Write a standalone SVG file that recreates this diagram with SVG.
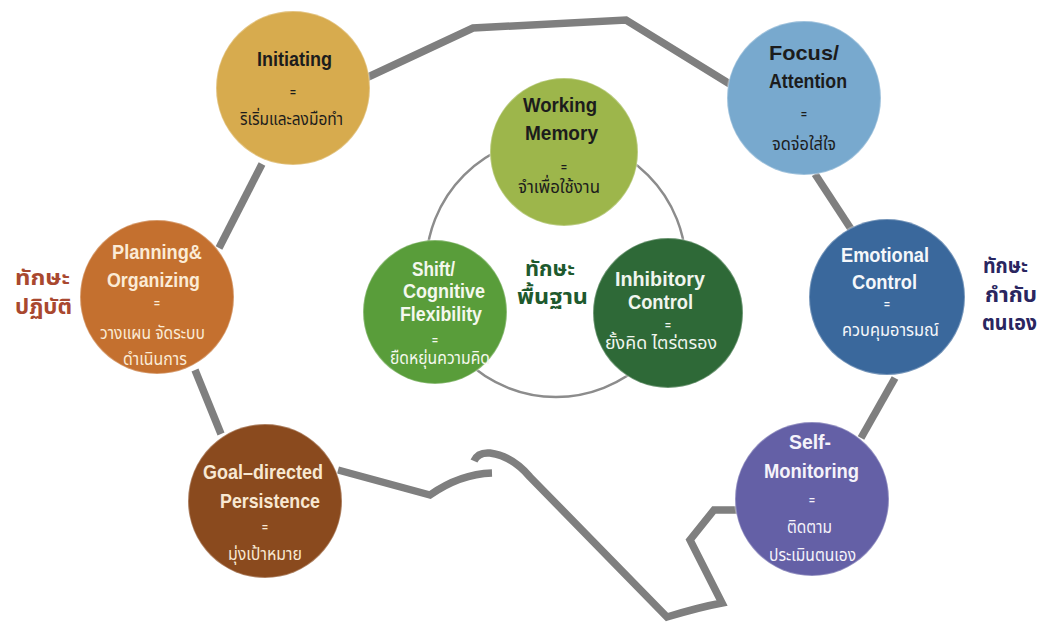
<svg xmlns="http://www.w3.org/2000/svg" width="1048" height="623" viewBox="0 0 1048 623">
<style>
.en{font-family:"Liberation Sans",Arial,sans-serif;font-weight:bold;font-size:21px}
.th{font-family:"Noto Sans Thai","Noto Sans Thai Looped","Loma","Garuda","Tlwg Typo","Noto Sans",sans-serif;font-size:18px}
.thb{font-family:"Noto Sans Thai","Noto Sans Thai Looped","Loma","Garuda","Tlwg Typo","Noto Sans",sans-serif;font-size:21px;font-weight:bold}
.eq{font-family:"Liberation Sans",Arial,sans-serif;font-weight:bold;font-size:10px;text-anchor:middle}
.dark{fill:#1c1c1c}
.node{stroke:#ffffff;stroke-opacity:0.3;stroke-width:2}
.line{fill:none;stroke:#7f7f7f;stroke-width:7.5;stroke-linejoin:miter;stroke-linecap:butt}
</style>
<rect width="1048" height="623" fill="#ffffff"/>
<g id="connectors">
<circle cx="556" cy="267" r="130" fill="none" stroke="#8c8c8c" stroke-width="2.5"/>
<path class="line" d="M366 78 L473 28 L626 20 L733 86"/>
<path class="line" d="M262 164 L219 248"/>
<path class="line" d="M195 370 L221 434"/>
<path class="line" d="M815 174 L851 229"/>
<path class="line" d="M895 378 L861 438"/>
<path class="line" d="M338 470 L430 495 Q460 474 492 473"/>
<path class="line" d="M474 461 Q478 452 490 453 Q512 456 530 477 L667 617 Q700 607 722 603 L690 540 L714 510 L740 510"/>
</g>
<g id="initiating">
<circle class="node" cx="293" cy="88" r="77" fill="#d7ab4e"/>
<text class="en dark" x="257" y="66" textLength="75" lengthAdjust="spacingAndGlyphs">Initiating</text>
<text class="eq dark" x="293" y="96">=</text>
<text class="th dark" x="240" y="125" textLength="103" lengthAdjust="spacingAndGlyphs">ริเริ่มและลงมือทำ</text>
</g>
<g id="planning">
<circle class="node" cx="157" cy="297" r="77" fill="#c4702f"/>
<g fill="#fbebd6">
<text class="en" x="112" y="259" textLength="90" lengthAdjust="spacingAndGlyphs">Planning&amp;</text>
<text class="en" x="107" y="287" textLength="93" lengthAdjust="spacingAndGlyphs">Organizing</text>
<text class="eq" x="157" y="307">=</text>
<text class="th" x="100" y="339" textLength="105" lengthAdjust="spacingAndGlyphs">วางแผน จัดระบบ</text>
<text class="th" x="123" y="365" textLength="64" lengthAdjust="spacingAndGlyphs">ดำเนินการ</text>
</g>
</g>
<g id="goal">
<circle class="node" cx="265" cy="501" r="77" fill="#8a4a1e"/>
<g fill="#f8e8d2">
<text class="en" x="203" y="479" textLength="120" lengthAdjust="spacingAndGlyphs">Goal–directed</text>
<text class="en" x="220" y="508" textLength="100" lengthAdjust="spacingAndGlyphs">Persistence</text>
<text class="eq" x="265" y="531">=</text>
<text class="th" x="228" y="560" textLength="74" lengthAdjust="spacingAndGlyphs">มุ่งเป้าหมาย</text>
</g>
</g>
<g id="working-memory">
<circle class="node" cx="564" cy="152" r="74" fill="#9db64b"/>
<text class="en dark" x="523" y="112" textLength="74" lengthAdjust="spacingAndGlyphs">Working</text>
<text class="en dark" x="525" y="140" textLength="73" lengthAdjust="spacingAndGlyphs">Memory</text>
<text class="eq dark" x="564" y="171">=</text>
<text class="th dark" x="518" y="193" textLength="82" lengthAdjust="spacingAndGlyphs">จำเพื่อใช้งาน</text>
</g>
<g id="shift">
<circle class="node" cx="435" cy="312" r="72" fill="#599d3a"/>
<g fill="#f4f8ee">
<text class="en" x="412" y="276" textLength="43" lengthAdjust="spacingAndGlyphs">Shift/</text>
<text class="en" x="403" y="298" textLength="82" lengthAdjust="spacingAndGlyphs">Cognitive</text>
<text class="en" x="400" y="321" textLength="82" lengthAdjust="spacingAndGlyphs">Flexibility</text>
<text class="eq" x="435" y="344">=</text>
<text class="th" x="390" y="364" textLength="100" lengthAdjust="spacingAndGlyphs">ยืดหยุ่นความคิด</text>
</g>
</g>
<g id="inhibitory">
<circle class="node" cx="668" cy="313" r="75" fill="#2e6937"/>
<g fill="#f0f5ee">
<text class="en" x="615" y="286" textLength="90" lengthAdjust="spacingAndGlyphs">Inhibitory</text>
<text class="en" x="628" y="309" textLength="65" lengthAdjust="spacingAndGlyphs">Control</text>
<text class="eq" x="668" y="329">=</text>
<text class="th" x="605" y="349" textLength="112" lengthAdjust="spacingAndGlyphs">ยั้งคิด ไตร่ตรอง</text>
</g>
</g>
<g id="focus">
<circle class="node" cx="804" cy="98" r="77" fill="#78a9ce"/>
<text class="en dark" x="769" y="60" textLength="70" lengthAdjust="spacingAndGlyphs">Focus/</text>
<text class="en dark" x="769" y="88" textLength="78" lengthAdjust="spacingAndGlyphs">Attention</text>
<text class="eq dark" x="804" y="118">=</text>
<text class="th dark" x="772" y="150" textLength="64" lengthAdjust="spacingAndGlyphs">จดจ่อใส่ใจ</text>
</g>
<g id="emotional">
<circle class="node" cx="887" cy="297" r="78" fill="#3a689c"/>
<g fill="#f5f7fa">
<text class="en" x="841" y="262" textLength="88" lengthAdjust="spacingAndGlyphs">Emotional</text>
<text class="en" x="852" y="289" textLength="65" lengthAdjust="spacingAndGlyphs">Control</text>
<text class="eq" x="887" y="308">=</text>
<text class="th" x="842" y="336" textLength="97" lengthAdjust="spacingAndGlyphs">ควบคุมอารมณ์</text>
</g>
</g>
<g id="self-monitoring">
<circle class="node" cx="812" cy="499" r="77" fill="#6460a6"/>
<g fill="#f5f3fa">
<text class="en" x="789" y="449" textLength="42" lengthAdjust="spacingAndGlyphs">Self-</text>
<text class="en" x="764" y="478" textLength="95" lengthAdjust="spacingAndGlyphs">Monitoring</text>
<text class="eq" x="812" y="504">=</text>
<text class="th" x="787" y="533" textLength="45" lengthAdjust="spacingAndGlyphs">ติดตาม</text>
<text class="th" x="769" y="561" textLength="87" lengthAdjust="spacingAndGlyphs">ประเมินตนเอง</text>
</g>
</g>
<g id="label-basic" fill="#1e5a2e">
<text class="thb" x="525" y="276" textLength="50" lengthAdjust="spacingAndGlyphs">ทักษะ</text>
<text class="thb" x="517" y="304" textLength="71" lengthAdjust="spacingAndGlyphs">พื้นฐาน</text>
</g>
<g id="label-practice" fill="#a9482f">
<text class="thb" x="15" y="285" textLength="55" lengthAdjust="spacingAndGlyphs">ทักษะ</text>
<text class="thb" x="15" y="314" textLength="57" lengthAdjust="spacingAndGlyphs">ปฏิบัติ</text>
</g>
<g id="label-self" fill="#2a2660">
<text class="thb" x="983" y="273" textLength="45" lengthAdjust="spacingAndGlyphs">ทักษะ</text>
<text class="thb" x="985" y="302" textLength="52" lengthAdjust="spacingAndGlyphs">กำกับ</text>
<text class="thb" x="982" y="330" textLength="55" lengthAdjust="spacingAndGlyphs">ตนเอง</text>
</g>
</svg>
